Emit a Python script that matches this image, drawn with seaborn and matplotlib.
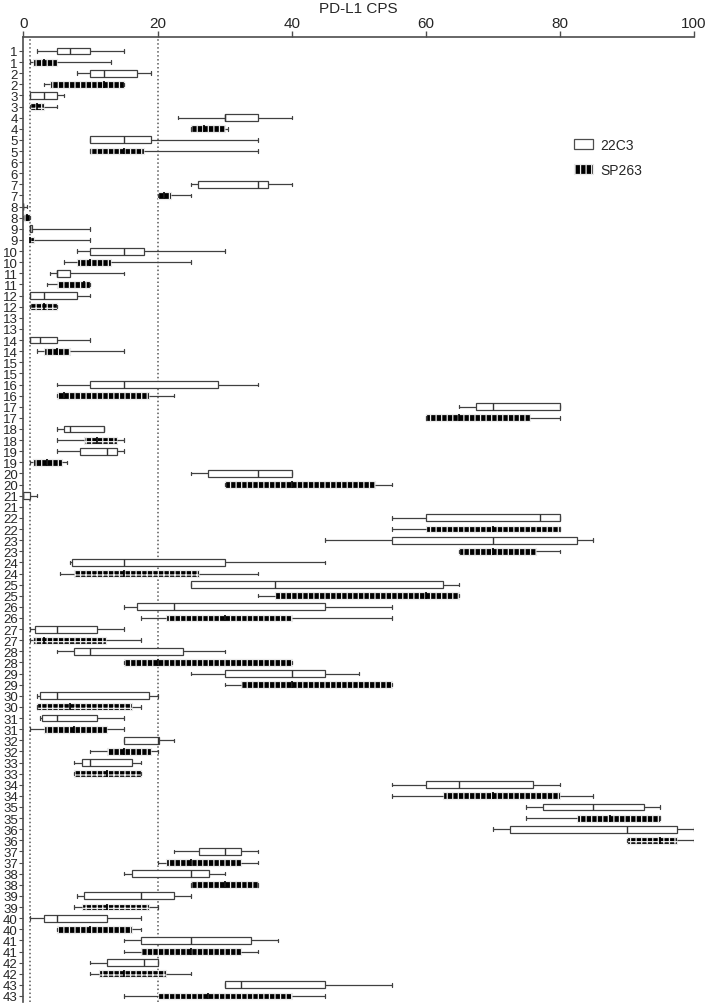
import numpy as np
import pandas as pd
import matplotlib
matplotlib.use("Agg")
import matplotlib.pyplot as plt
from matplotlib import font_manager
from matplotlib.patches import Patch
import seaborn as sns

# Casos (cada caso tiene una fila para 22C3 y otra para SP263)
casos = list(range(1, 44))

# 22C3: bigote inferior, Q1, mediana, Q3, bigote superior (None = sin datos)
c22_min = [2, 8, 1, 23, 10, None, 25, 0, 1, 8, 4, 1, None, 1, None, 5, 65, 5, 5, 25, 0,
           55, 45, 7, 25, 15, 1, 5, 25, 2, 2.5, 15, 7.5, 55, 75, 70, 22.5, 15, 8, 1, 15, 10, 30]
c22_q1 = [5, 10, 1, 30, 10, None, 26, 0, 1, 10, 5, 1, None, 1, None, 10, 67.5, 6, 8.5, 27.5, 0,
          60, 55, 7.3, 25, 17, 1.75, 7.5, 30, 2.5, 2.75, 15, 8.75, 60, 77.5, 72.5, 26.25, 16.25, 9, 3, 17.5, 12.5, 30]
c22_med = [7, 12, 3, 30, 15, None, 35, 0, 1, 15, 5, 3, None, 2.5, None, 15, 70, 7, 12.5, 35, 0,
           77, 70, 15, 37.5, 22.5, 5, 10, 40, 5, 5, 20, 10, 65, 85, 90, 30, 25, 17.5, 5, 25, 18, 32.5]
c22_q3 = [10, 17, 5, 35, 19, None, 36.5, 0, 1.3, 18, 7, 8, None, 5, None, 29, 80, 12, 14, 40, 1,
          80, 82.5, 30, 62.5, 45, 11, 23.75, 45, 18.75, 11, 20.25, 16.25, 76, 92.5, 97.5, 32.5, 27.75, 22.5, 12.5, 34, 20, 45]
c22_max = [15, 19, 6, 40, 35, None, 40, 0.5, 10, 30, 15, 10, None, 10, None, 35, 80, 12, 15, 40, 2,
           80, 85, 45, 65, 55, 15, 30, 50, 20, 15, 22.5, 17.5, 80, 95, 100, 35, 30, 25, 17.5, 38, 20, 55]

# SP263
sp_min = [1, 3, 1, 25, 10, None, 20, 0, 1, 6, 3.5, 1, None, 2, None, 5, 60, 5, 1, 30, None,
          55, 65, 5.5, 35, 17.5, 1, 15, 30, 2, 1, 10, 7.5, 55, 75, 90, 20, 25, 7.5, 5, 15, 10, 15]
sp_q1 = [1.5, 4, 1, 25, 10, None, 20, 0, 1, 8, 5, 1, None, 3, None, 5, 60, 9, 1.5, 30, None,
         60, 65, 7.5, 37.5, 21.25, 1.5, 15, 32.5, 2, 3, 12.5, 7.5, 62.5, 82.5, 90, 21.25, 25, 8.75, 5, 17.5, 11.25, 20]
sp_med = [3, 12, 2, 27, 15, None, 21, 0.5, 1, 10, 9, 3, None, 5, None, 6, 65, 11, 3.5, 40, None,
          70, 70, 15, 60, 30, 3, 20, 40, 7, 7.5, 15, 12.5, 70, 87.5, 95, 25, 30, 12.5, 10, 25, 15, 27.5]
sp_q3 = [5, 15, 3, 30, 18, None, 22, 1, 1.6, 13, 10, 5, None, 7, None, 18.75, 75.5, 14, 5.75, 52.5, None,
         80, 76.5, 26.25, 65, 40, 12.25, 40, 55, 16.25, 12.5, 19, 17.5, 80, 95, 97.5, 32.5, 35, 18.75, 16.25, 32.5, 21.25, 40]
sp_max = [13, 15, 5, 30.5, 35, None, 25, 1, 10, 25, 10, 5, None, 15, None, 22.5, 80, 15, 6.5, 55, None,
          80, 80, 35, 65, 55, 17.5, 40, 55, 17.5, 15, 20, 17.5, 85, 95, 100, 35, 35, 20, 17.5, 35, 25, 45]

orden = [f"{c}{s}" for c in casos for s in ("a", "b")]
etiquetas = [str(c) for c in casos for _ in range(2)]


def tabla(sufijo, *cols):
    filas = []
    for i, c in enumerate(casos):
        vals = [col[i] for col in cols]
        if vals[0] is None:
            continue
        for v in vals:
            filas.append({"fila": f"{c}{sufijo}", "cps": v})
    return pd.DataFrame(filas)


df22 = tabla("a", c22_min, c22_q1, c22_med, c22_q3, c22_max)
dfsp = tabla("b", sp_min, sp_q1, sp_med, sp_q3, sp_max)

sns.set_style("ticks")
plt.rcParams["font.family"] = ["Liberation Sans", "DejaVu Sans"]
plt.rcParams["hatch.linewidth"] = 0.9

# fuente estrecha para las etiquetas del eje y, si existe
nombres = {f.name for f in font_manager.fontManager.ttflist}
if "Liberation Sans Narrow" in nombres:
    fuente_y, tam_y = "Liberation Sans Narrow", 10.5
else:
    fuente_y, tam_y = "Liberation Sans", 9.5

fig = plt.figure(figsize=(7.09, 10.04), dpi=100)
ax = fig.add_axes([0.033, 0.001, 0.9458, 0.9612])

# Líneas de referencia CPS 1 y 20
for xv in (1, 20):
    ax.axvline(xv, color="0.35", lw=1.1, ls=(0, (1, 1.6)), zorder=0)

sns.boxplot(data=df22, x="cps", y="fila", order=orden, color="white", saturation=1,
            width=0.62, whis=(0, 100), linecolor="0.25", linewidth=0.9, showfliers=False,
            medianprops={"color": "0.2", "linewidth": 1.0}, ax=ax)
n0 = len(ax.patches)
sns.boxplot(data=dfsp, x="cps", y="fila", order=orden, color="black", saturation=1,
            width=0.62, whis=(0, 100), linecolor="0.25", linewidth=0.9, showfliers=False,
            medianprops={"color": "black", "linewidth": 1.2}, ax=ax)
for p in ax.patches[n0:]:
    p.set_hatch("|||-")
    p.set_edgecolor("0.92")

ax.set_xlim(0, 100)
ax.set_ylim(85.54, -1.26)
ax.xaxis.tick_top()
ax.xaxis.set_label_position("top")
ax.set_xticks([0, 20, 40, 60, 80, 100])
ax.tick_params(axis="x", labelsize=11, length=4, width=1, color="0.3", pad=1)
ax.set_xlabel("PD-L1 CPS", fontsize=11, labelpad=3)
ax.set_yticks(range(len(orden)))
ax.set_yticklabels(etiquetas, fontfamily=fuente_y, fontsize=tam_y)
ax.tick_params(axis="y", length=3, width=0.8, color="0.3", pad=1)
ax.set_ylabel("")
for lado in ("bottom", "right"):
    ax.spines[lado].set_visible(False)
for lado in ("top", "left"):
    ax.spines[lado].set_color("0.3")
    ax.spines[lado].set_linewidth(1.2)

manejadores = [Patch(facecolor="white", edgecolor="0.3", linewidth=0.9),
               Patch(facecolor="black", edgecolor="0.92", hatch="|||-", linewidth=0.9)]
ax.legend(manejadores, ["22C3", "SP263"], loc="center left", bbox_to_anchor=(0.802, 0.875),
          frameon=False, fontsize=10, handlelength=1.4, handleheight=0.75, labelspacing=0.8,
          handletextpad=0.5)

fig.savefig("out.png", dpi=100)
